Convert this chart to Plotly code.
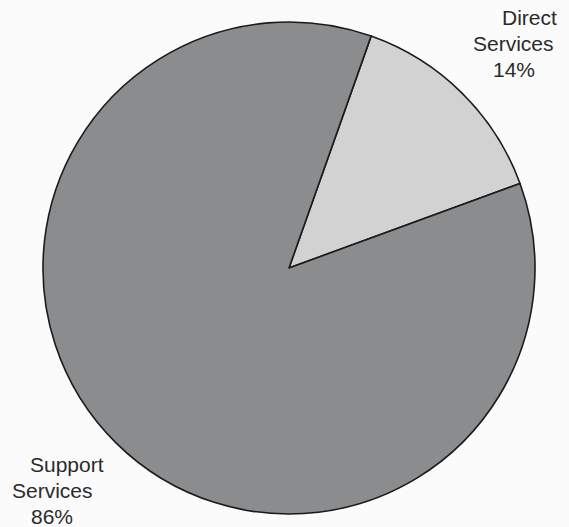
import plotly.graph_objects as go

# Share of spending by service type
labels = ["Direct Services", "Support Services"]
values = [14, 86]
colors = ["#d2d2d2", "#8b8c8e"]

W, H = 569, 527

fig = go.Figure(
    go.Pie(
        labels=labels,
        values=values,
        sort=False,
        direction="clockwise",
        rotation=19.5,
        textinfo="none",
        hoverinfo="label+percent",
        marker=dict(colors=colors, line=dict(color="#1b1b1b", width=1.6)),
        domain=dict(x=[(289 - 246) / W, (289 + 246) / W],
                    y=[(H - 268 - 246) / H, (H - 268 + 246) / H]),
        showlegend=False,
    )
)

total = sum(values)
pct = [f"{round(100 * v / total)}%" for v in values]

# Outside labels, one line per annotation: (line text, centre x px, baseline y px)
label_lines = []
for name, p, spots in zip(
    labels, pct,
    [[(529, 25), (513, 51), (514, 77)],
     [(67, 472), (52, 498), (52, 524)]],
):
    words = name.split(" ")
    for txt, (cx, by) in zip(words + [p], spots):
        label_lines.append((txt, cx, by))

FS = 21
annotations = []
for txt, cx, by in label_lines:
    annotations.append(dict(
        text=txt,
        x=cx / W, y=1 - (by - 0.36 * FS) / H,
        xref="paper", yref="paper",
        xanchor="center", yanchor="middle",
        showarrow=False,
        font=dict(family="Liberation Sans, Arial, sans-serif", size=FS, color="#2b2b2b"),
    ))

fig.update_layout(
    width=W, height=H,
    margin=dict(l=0, r=0, t=0, b=0),
    paper_bgcolor="#fbfbfb",
    plot_bgcolor="#fbfbfb",
    annotations=annotations,
)

fig.write_html("out.html")
